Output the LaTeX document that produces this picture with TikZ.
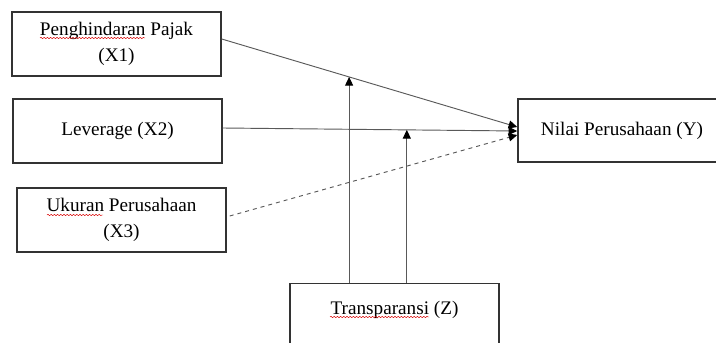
\documentclass[tikz,border=0pt]{standalone}
\usepackage{fontspec}
\setmainfont{Liberation Serif}
\usetikzlibrary{arrows.meta,calc,decorations.pathmorphing}

\tikzset{
    varbox/.style={draw=black!80, line width=1.1pt, minimum width=209*0.75pt, minimum height=64*0.75pt, align=center, font=\fontsize{14.4}{19.5}\selectfont},
    path/.style={black!65, line width=0.7pt, -{Triangle[length=6.5pt,width=6pt,color=black]}},
    spell/.style={red!85!black, line width=0.35pt, decorate, decoration={snake, amplitude=0.5pt, segment length=2.4pt}}
}

\begin{document}
\begin{tikzpicture}[x=0.75pt, y=-0.75pt]
        \useasboundingbox (0,0) rectangle (716,342);

        % Variables
        \node[varbox] (x1) at (116.5,44) {Penghindaran Pajak\\(X1)};
        \node[varbox] (x2) at (117.5,131) {Leverage (X2)};
        \node[varbox] (x3) at (121.5,220) {Ukuran Perusahaan\\(X3)};
        \node[varbox, minimum width=208*0.75pt, minimum height=63*0.75pt] (y) at (622,130.5) {Nilai Perusahaan (Y)};
        \node[varbox, anchor=north, inner sep=0pt, text height=23pt, text depth=32pt] (z) at (394.5,283) {Transparansi (Z)};

        % Spelling marks
        \draw[spell] (40,38) -- (145,38);
        \draw[spell] (47,215) -- (103,215);
        \draw[spell] (330,317) -- (429,317);

        % Direct paths
        \coordinate (s1) at ($(x1.east)+(0,-5)$);
        \coordinate (s2) at ($(x2.east)+(0,-3)$);
        \coordinate (s3) at ($(x3.east)+(3,-4)$);
        \draw[path] (s1) -- ($(y.west)+(0,-3.5)$);
        \draw[path] (s2) -- ($(y.west)+(0,0.5)$);
        \draw[path, dashed] (s3) -- ($(y.west)+(0,4.5)$);

        % Moderation
        \path (s1) -- ($(y.west)+(0,-3.5)$) coordinate[pos=0.431] (m1);
        \path (s2) -- ($(y.west)+(0,0.5)$) coordinate[pos=0.625] (m2);
        \draw[path] (m1 |- z.north) -- (m1);
        \draw[path] (m2 |- z.north) -- (m2);

    \end{tikzpicture}
\end{document}
